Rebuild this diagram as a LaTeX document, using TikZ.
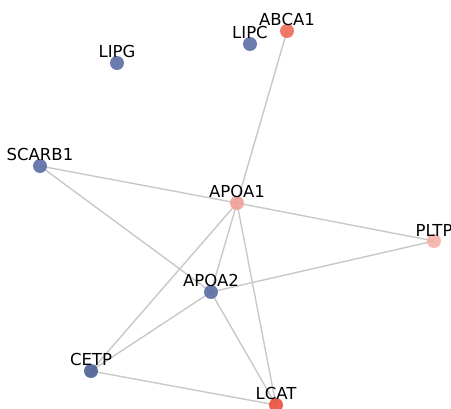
\documentclass[tikz,border=0pt]{standalone}
\usepackage{fontspec}
\setmainfont{DejaVu Sans}
\usetikzlibrary{backgrounds}
\definecolor{edgegray}{HTML}{C8C8C8}
\definecolor{geneblue}{HTML}{5A6EA4}
\definecolor{darkblue}{HTML}{4A5F94}
\definecolor{lightred}{HTML}{F0A098}
\definecolor{palered}{HTML}{F5B0A8}
\definecolor{midred}{HTML}{EE6A58}
\definecolor{deepred}{HTML}{E8503C}
\tikzset{
  gene/.style={circle,inner sep=0pt,minimum size=14pt,fill opacity=0.9,
    label={[font=\fontsize{16.5}{17}\selectfont,inner sep=0pt,label distance=-2.5pt]above:#1}},
  link/.style={draw=edgegray,line width=1.4pt}
}
\begin{document}
\begin{tikzpicture}[x=1pt,y=-1pt,line cap=round,line join=round]
		\useasboundingbox (0,0) rectangle (451,409);
		% nodes
		\node[gene=ABCA1,fill=midred] (abca1) at (287,31) {};
		\node[gene=LIPC,fill=geneblue] (lipc) at (250,44) {};
		\node[gene=LIPG,fill=geneblue] (lipg) at (117,63) {};
		\node[gene=SCARB1,fill=geneblue] (scarb1) at (40,166) {};
		\node[gene=APOA1,fill=lightred] (apoa1) at (237,203) {};
		\node[gene=PLTP,fill=palered] (pltp) at (434,241) {};
		\node[gene=APOA2,fill=geneblue] (apoa2) at (211,292) {};
		\node[gene=CETP,fill=darkblue] (cetp) at (91,371) {};
		\node[gene=LCAT,fill=deepred] (lcat) at (276,405) {};
		% edges
		\begin{scope}[on background layer]
		\path[link] (abca1.center) -- (apoa1.center);
		\path[link] (scarb1.center) -- (apoa1.center);
		\path[link] (scarb1.center) -- (apoa2.center);
		\path[link] (apoa1.center) -- (pltp.center);
		\path[link] (apoa1.center) -- (apoa2.center);
		\path[link] (apoa1.center) -- (cetp.center);
		\path[link] (apoa1.center) -- (lcat.center);
		\path[link] (apoa2.center) -- (pltp.center);
		\path[link] (apoa2.center) -- (cetp.center);
		\path[link] (apoa2.center) -- (lcat.center);
		\path[link] (cetp.center) -- (lcat.center);
		\end{scope}
\end{tikzpicture}
\end{document}
